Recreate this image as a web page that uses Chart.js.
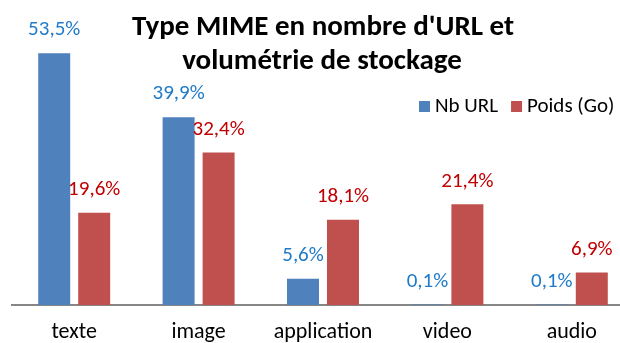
<!DOCTYPE html>
<html>
<head>
<meta charset="utf-8">
<script src="https://cdn.jsdelivr.net/npm/chart.js@4/dist/chart.umd.min.js"></script>
<style>
    html, body { margin: 0; padding: 0; background: #fff; overflow: hidden; }
    #wrap { position: relative; width: 640px; height: 343px; }
</style>
</head>
<body>
<div id="wrap"><canvas id="mime-chart"></canvas></div>
<script>
var categories = ["texte", "image", "application", "video", "audio"];
var nbUrl = [53.5, 39.9, 5.6, 0.1, 0.1];
var poidsGo = [19.6, 32.4, 18.1, 21.4, 6.9];
var seriesNames = ["Nb URL", "Poids (Go)"];
var titleLines = ["Type MIME en nombre d'URL et", "volumétrie de stockage"];

(
    function () {
        var canvas = document.getElementById("mime-chart");
        var fontFamily = "Carlito, Lato, 'Open Sans', sans-serif";
        var labelColors = ["#1F7BC8", "#C00000"];

        // étiquettes de valeur au-dessus des barres, format français
        var valueLabels = {
            id: 'valueLabels',
            afterDatasetsDraw: function (chart) {
                var ctx = chart.ctx;
                ctx.save();
                ctx.font = "21px " + fontFamily;
                ctx.textAlign = "center";
                ctx.textBaseline = "middle";
                chart.data.datasets.forEach(function (ds, i) {
                    var meta = chart.getDatasetMeta(i);
                    ctx.fillStyle = labelColors[i];
                    meta.data.forEach(function (bar, j) {
                        var txt = ds.data[j].toFixed(1).replace(".", ",") + "%";
                        ctx.fillText(txt, bar.x, bar.y - 23);
                    });
                });
                ctx.restore();
            }
        };

        // titre et légende posés par-dessus la zone de tracé
        var overlay = {
            id: 'overlay',
            afterDraw: function (chart) {
                var ctx = chart.ctx;
                ctx.save();
                ctx.fillStyle = "#000";
                ctx.textAlign = "center";
                ctx.textBaseline = "middle";
                ctx.font = "bold 29px " + fontFamily;
                ctx.fillText(titleLines[0], 323, 28);
                ctx.fillText(titleLines[1], 322, 62);

                ctx.font = "21px " + fontFamily;
                ctx.textAlign = "left";
                var x = 419;
                chart.data.datasets.forEach(function (ds) {
                    ctx.fillStyle = ds.backgroundColor;
                    ctx.fillRect(x, 101, 11, 11);
                    ctx.fillStyle = "#000";
                    ctx.fillText(ds.label, x + 16, 107);
                    x += 16 + ctx.measureText(ds.label).width + 13;
                });
                ctx.restore();
            }
        };

        new Chart(canvas, {
            type: 'bar',
            data: {
                labels: categories,
                datasets: [
                    {
                        label: seriesNames[0],
                        data: nbUrl,
                        backgroundColor: "#4F81BD"
                    },
                    {
                        label: seriesNames[1],
                        data: poidsGo,
                        backgroundColor: "#C0504D"
                    }
                ]
            },
            options: {
                responsive: true,
                maintainAspectRatio: false,
                animation: false,
                layout: { padding: { left: 12, right: 6, top: 0, bottom: 0 } },
                categoryPercentage: 0.643,
                barPercentage: 0.8,
                plugins: {
                    legend: { display: false },
                    title: { display: false },
                    tooltip: { enabled: false }
                },
                scales: {
                    x: {
                        grid: { display: false, drawTicks: false },
                        border: { color: "#868686", width: 2 },
                        ticks: {
                            color: "#000",
                            padding: 14,
                            font: { family: fontFamily, size: 22 }
                        },
                        afterFit: function (scale) {
                            scale.height = 38;
                        }
                    },
                    y: {
                        display: false,
                        min: 0,
                        max: 64.8
                    }
                }
            },
            plugins: [valueLabels, overlay]
        });
    }
)();
</script>
</body>
</html>
